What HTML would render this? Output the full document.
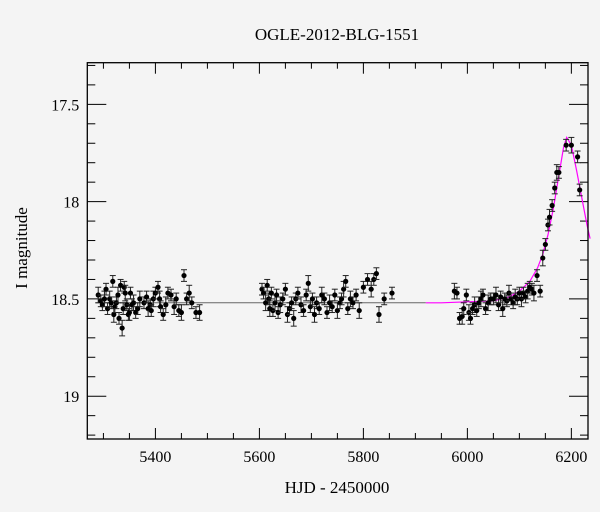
<!DOCTYPE html>
<html><head><meta charset="utf-8"><style>
body{margin:0;background:#f4f4f4;}
svg{display:block;font-family:"Liberation Serif",serif;}
</style></head><body>
<svg id="chart" width="600" height="512" viewBox="0 0 600 512">
<rect width="600" height="512" fill="#f4f4f4"/>
<text x="337" y="40" font-size="17" text-anchor="middle">OGLE-2012-BLG-1551</text>
<text x="337" y="493" font-size="17" text-anchor="middle">HJD - 2450000</text>
<text transform="translate(27,248) rotate(-90)" font-size="17" text-anchor="middle">I magnitude</text>
<g id="axes"></g><g id="model"></g><g id="pts"></g>
<rect x="87.3" y="62.7" width="500.7" height="376.3" fill="none" stroke="#000" stroke-width="1.3"/>
</svg>
<script>
const xTicks=[5400,5600,5800,6000,6200];
const yTicks=[17.5,18,18.5,19];
const yTickLabels=["17.5","18","18.5","19"];
const modelT=[5270,5950,6000,6050,6080,6100,6120,6135,6145,6155,6165,6175,6185,6191,6200,6210,6220,6230,6236];
const modelM=[18.52,18.52,18.515,18.51,18.49,18.46,18.41,18.34,18.27,18.17,18.04,17.88,17.72,17.67,17.71,17.84,17.98,18.12,18.19];
const obsT=[5290,5295,5298,5302,5305,5308,5312,5315,5318,5320,5322,5325,5328,5330,5333,5336,5338,5340,5342,5345,5348,5350,5352,5355,5358,5362,5366,5370,5378,5383,5386,5390,5392,5396,5400,5405,5408,5410,5415,5420,5424,5430,5436,5440,5445,5450,5455,5460,5465,5470,5478,5485,
5605,5608,5612,5615,5618,5620,5623,5626,5630,5633,5636,5640,5645,5650,5654,5658,5662,5666,5670,5674,5680,5685,5690,5694,5698,5702,5706,5710,5715,5720,5725,5730,5735,5740,5745,5750,5755,5758,5762,5766,5770,5775,5780,5786,5792,5800,5808,5815,5820,5825,5830,5840,5855,
5975,5980,5985,5990,5993,5998,6003,6006,6010,6014,6018,6022,6026,6030,6035,6040,6045,6050,6055,6060,6064,6068,6072,6076,6080,6084,6088,6092,6096,6100,6104,6108,6112,6116,6120,6124,6128,6134,6140,6145,6150,6155,6158,6163,6168,6172,6176,6190,6200,6212,6216];
const obsM=[18.48,18.51,18.53,18.5,18.45,18.55,18.5,18.52,18.41,18.58,18.54,18.52,18.48,18.6,18.43,18.65,18.55,18.44,18.47,18.53,18.58,18.57,18.47,18.53,18.52,18.57,18.55,18.5,18.52,18.49,18.55,18.53,18.56,18.5,18.47,18.44,18.5,18.54,18.58,18.53,18.47,18.48,18.54,18.5,18.56,18.57,18.38,18.5,18.47,18.52,18.57,18.57,
18.45,18.47,18.52,18.43,18.5,18.55,18.47,18.56,18.52,18.48,18.57,18.53,18.5,18.45,18.58,18.55,18.52,18.6,18.5,18.47,18.53,18.56,18.48,18.42,18.54,18.5,18.58,18.52,18.55,18.48,18.5,18.57,18.52,18.54,18.48,18.56,18.52,18.5,18.45,18.41,18.55,18.5,18.52,18.48,18.56,18.44,18.4,18.45,18.4,18.37,18.58,18.5,18.47,
18.46,18.47,18.6,18.59,18.55,18.48,18.57,18.6,18.55,18.53,18.56,18.52,18.5,18.48,18.55,18.52,18.5,18.5,18.48,18.53,18.49,18.55,18.5,18.51,18.47,18.5,18.52,18.49,18.5,18.47,18.5,18.47,18.49,18.46,18.44,18.45,18.47,18.38,18.46,18.29,18.22,18.12,18.08,18.02,17.93,17.85,17.85,17.71,17.71,17.77,17.94];
const obsE=obsT.map((t,i)=>(i%3===0?0.04:0.03));
const x0=87.3,x1=588,t0=5269,t1=6232,y0=62.7,y1=439,m0=17.286,m1=19.22;
const X=t=>x0+(t-t0)/(t1-t0)*(x1-x0);
const Y=m=>y0+(m-m0)/(m1-m0)*(y1-y0);
const NS="http://www.w3.org/2000/svg";
function mk(tag,at,parent){const e=document.createElementNS(NS,tag);for(const k in at)e.setAttribute(k,at[k]);document.getElementById(parent).appendChild(e);return e;}
for(let t=5300;t<=6230;t+=50){const maj=t%200===0;const L=maj?11:6;
 let a=mk('line',{x1:X(t),x2:X(t),y1:y1,y2:y1-L,stroke:'#000'},'axes');
 
 
 let b=mk('line',{x1:X(t),x2:X(t),y1:y0,y2:y0+L,stroke:'#000'},'axes');
 
 }
xTicks.forEach(t=>{const e=mk('text',{x:X(t),y:y1+23,'font-size':16,'text-anchor':'middle'},'axes');e.textContent=t;
 
 });
for(let k=173;k<=192;k++){const m=k/10;const maj=k%5===0;const L=maj?19:8;
 let a=mk('line',{x1:x0,x2:x0+L,y1:Y(m),y2:Y(m),stroke:'#000'},'axes');
 
 
 let b=mk('line',{x1:x1,x2:x1-L,y1:Y(m),y2:Y(m),stroke:'#000'},'axes');
 
 }
yTicks.forEach((m,i)=>{const e=mk('text',{x:x0-8,y:Y(m)+6,'font-size':16,'text-anchor':'end'},'axes');e.textContent=yTickLabels[i];
 
 });
let base=mk('line',{x1:X(5285),x2:X(5920),y1:Y(modelM[0]),y2:Y(modelM[0]),stroke:'#666','stroke-width':1},'model');


let mp=modelT.filter(t=>t>=5920).map((t)=>{const i=modelT.indexOf(t);return X(t).toFixed(1)+','+Y(modelM[i]).toFixed(1);});
mp.unshift(X(5920).toFixed(1)+','+Y(18.52).toFixed(1));
let ml=mk('polyline',{points:mp.join(' '),fill:'none',stroke:'#ff00ff','stroke-width':1.2},'model');


obsT.forEach((t,i)=>{const cx=X(t),cy=Y(obsM[i]),e=obsE[i];
 const g=mk('g',{},'pts');
 
 
 const s='#222';
 [[cx,Y(obsM[i]-e),cx,Y(obsM[i]+e)],[cx-3,Y(obsM[i]-e),cx+3,Y(obsM[i]-e)],[cx-3,Y(obsM[i]+e),cx+3,Y(obsM[i]+e)]].forEach(l=>{
  const ln=document.createElementNS(NS,'line');ln.setAttribute('x1',l[0]);ln.setAttribute('y1',l[1]);ln.setAttribute('x2',l[2]);ln.setAttribute('y2',l[3]);ln.setAttribute('stroke',s);g.appendChild(ln);});
 const c=document.createElementNS(NS,'circle');c.setAttribute('cx',cx);c.setAttribute('cy',cy);c.setAttribute('r',2.6);c.setAttribute('fill','#000');g.appendChild(c);
});
</script>
</body></html>
